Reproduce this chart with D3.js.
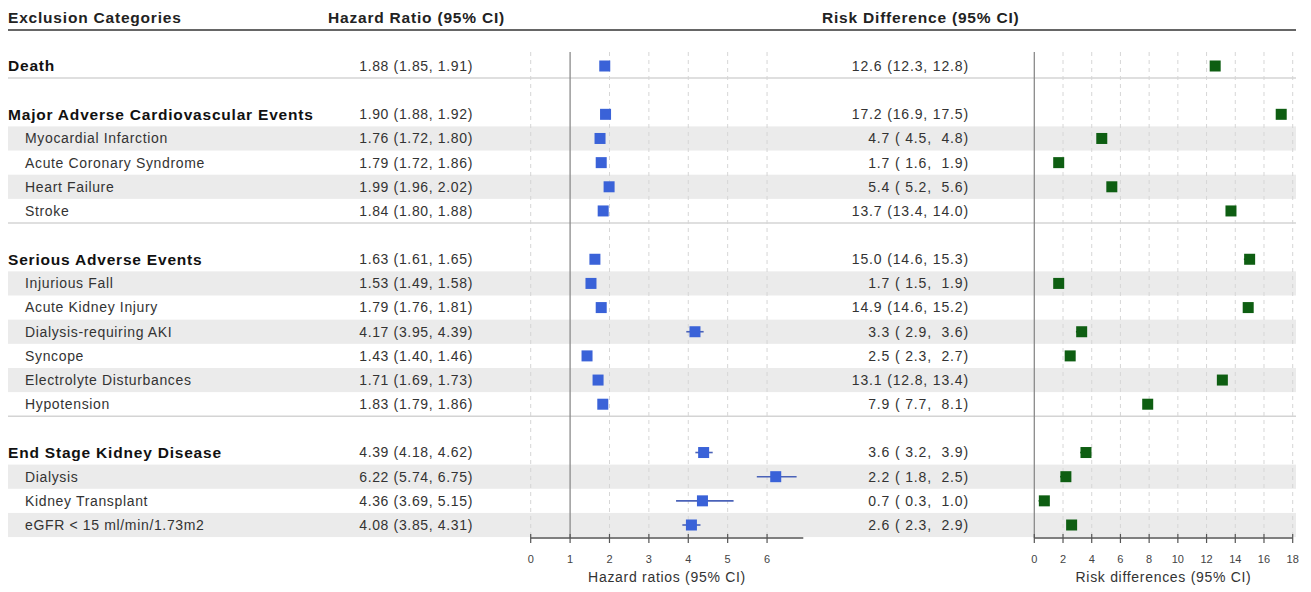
<!DOCTYPE html>
<html><head><meta charset="utf-8">
<script src="https://cdn.jsdelivr.net/npm/d3@7"></script>
<style>body{margin:0;background:#fff}svg{display:block;font-family:"Liberation Sans",Arial,sans-serif}</style>
</head><body><svg id="c" width="1311" height="592"></svg>
<script>
// ---- data ----
const labels = ["Death", "", "Major Adverse Cardiovascular Events", "Myocardial Infarction", "Acute Coronary Syndrome", "Heart Failure", "Stroke", "",
  "Serious Adverse Events", "Injurious Fall", "Acute Kidney Injury", "Dialysis-requiring AKI", "Syncope", "Electrolyte Disturbances", "Hypotension", "",
  "End Stage Kidney Disease", "Dialysis", "Kidney Transplant", "eGFR < 15 ml/min/1.73m2"];
const levels = [0, null, 0, 1, 1, 1, 1, null, 0, 1, 1, 1, 1, 1, 1, null, 0, 1, 1, 1];
const shaded = [0,0,0,1,0,1,0,0,0,1,0,1,0,1,0,0,0,1,0,1];
const hr   = [1.88, null, 1.90, 1.76, 1.79, 1.99, 1.84, null, 1.63, 1.53, 1.79, 4.17, 1.43, 1.71, 1.83, null, 4.39, 6.22, 4.36, 4.08];
const hrLo = [1.85, null, 1.88, 1.72, 1.72, 1.96, 1.80, null, 1.61, 1.49, 1.76, 3.95, 1.40, 1.69, 1.79, null, 4.18, 5.74, 3.69, 3.85];
const hrHi = [1.91, null, 1.92, 1.80, 1.86, 2.02, 1.88, null, 1.65, 1.58, 1.81, 4.39, 1.46, 1.73, 1.86, null, 4.62, 6.75, 5.15, 4.31];
const rd   = [12.6, null, 17.2, 4.7, 1.7, 5.4, 13.7, null, 15.0, 1.7, 14.9, 3.3, 2.5, 13.1, 7.9, null, 3.6, 2.2, 0.7, 2.6];
const rdLo = [12.3, null, 16.9, 4.5, 1.6, 5.2, 13.4, null, 14.6, 1.5, 14.6, 2.9, 2.3, 12.8, 7.7, null, 3.2, 1.8, 0.3, 2.3];
const rdHi = [12.8, null, 17.5, 4.8, 1.9, 5.6, 14.0, null, 15.3, 1.9, 15.2, 3.6, 2.7, 13.4, 8.1, null, 3.9, 2.5, 1.0, 2.9];
const separatorsAfter = [0, 6, 14];
const headers = ["Exclusion Categories", "Hazard Ratio (95% CI)", "Risk Difference (95% CI)"];
const hrTicks = [0, 1, 2, 3, 4, 5, 6];
const rdTicks = [0, 2, 4, 6, 8, 10, 12, 14, 16, 18];
const axisTitles = ["Hazard ratios (95% CI)", "Risk differences (95% CI)"];

// ---- layout ----
const svg = d3.select("#c");
const idx = d3.range(labels.length);
const y = d3.scalePoint().domain(idx).range([66, 525]);
const step = y.step();
const xHR = d3.scaleLinear().domain([0, 6.92]).range([530.7, 803.3]);
const xRD = d3.scaleLinear().domain([0, 18]).range([1034.3, 1292.7]);
const plotTop = 52, axisY = 538;
const L = 8, R = 1296;

// bands
svg.append("g").selectAll("rect").data(idx.filter(i => shaded[i])).join("rect")
  .attr("x", L).attr("width", R - L).attr("y", i => y(i) - step/2).attr("height", step)
  .attr("fill", "#ebebeb");

// separators
svg.append("g").selectAll("line").data(separatorsAfter).join("line")
  .attr("x1", L).attr("x2", R).attr("y1", i => y(i) + step/2).attr("y2", i => y(i) + step/2)
  .attr("stroke", "#d4d4d4").attr("stroke-width", 1.5);

// header
const hx = [8, 328, 822];
svg.append("g").selectAll("text").data(headers).join("text")
  .attr("x", (d, i) => hx[i]).attr("y", 23).attr("font-size", 15.5).attr("letter-spacing", 0.8)
  .attr("font-weight", "bold").attr("fill", "#222")
  .text(d => d);
svg.append("line").attr("x1", L).attr("x2", R).attr("y1", 30).attr("y2", 30).attr("stroke", "#666").attr("stroke-width", 2);

// grid
function grid(scale, ticks, ref) {
  const g = svg.append("g");
  g.selectAll("line.g").data(ticks.filter(t => t !== ref)).join("line")
    .attr("x1", d => scale(d)).attr("x2", d => scale(d)).attr("y1", plotTop).attr("y2", axisY)
    .attr("stroke", "#d6d6d6").attr("stroke-dasharray", "4,4").attr("stroke-width", 1);
  g.append("line").attr("x1", scale(ref)).attr("x2", scale(ref)).attr("y1", plotTop).attr("y2", axisY)
    .attr("stroke", "#8a8a8a").attr("stroke-width", 1.3);
}
grid(xHR, hrTicks, 1);
grid(xRD, rdTicks, 0);

// labels
svg.append("g").selectAll("text").data(idx.filter(i => levels[i] !== null)).join("text")
  .attr("x", i => levels[i] === 0 ? 8 : 25).attr("y", i => y(i)).attr("dy", "0.35em")
  .attr("font-size", i => levels[i] === 0 ? 15.5 : 14)
  .attr("letter-spacing", i => levels[i] === 0 ? 0.8 : 0.65)
  .attr("font-weight", i => levels[i] === 0 ? "bold" : "normal")
  .attr("fill", i => levels[i] === 0 ? "#111" : "#333")
  .text(i => labels[i]);

// value texts
const pad = (v, w) => { const s = v.toFixed(1); return " ".repeat(Math.max(0, w - s.length)) + s; };
svg.append("g").selectAll("text").data(idx.filter(i => hr[i] !== null)).join("text")
  .attr("x", 473).attr("y", i => y(i)).attr("dy", "0.35em").attr("text-anchor", "end")
  .attr("font-size", 14).attr("letter-spacing", 0.65).attr("fill", "#333")
  .text(i => `${hr[i].toFixed(2)} (${hrLo[i].toFixed(2)}, ${hrHi[i].toFixed(2)})`);
svg.append("g").selectAll("text").data(idx.filter(i => rd[i] !== null)).join("text")
  .attr("x", 969).attr("y", i => y(i)).attr("dy", "0.35em").attr("text-anchor", "end")
  .attr("font-size", 14).attr("letter-spacing", 0.85).attr("fill", "#333").style("white-space", "pre").attr("xml:space", "preserve")
  .text(i => `${rd[i].toFixed(1)} (${pad(rdLo[i], 4)}, ${pad(rdHi[i], 4)})`);

// markers
function marks(scale, v, lo, hi, fill, line, size) {
  const g = svg.append("g");
  const ii = idx.filter(i => v[i] !== null);
  g.selectAll("line").data(ii).join("line")
    .attr("x1", i => scale(lo[i])).attr("x2", i => scale(hi[i])).attr("y1", i => y(i)).attr("y2", i => y(i))
    .attr("stroke", line).attr("stroke-width", 1.6);
  g.selectAll("rect").data(ii).join("rect")
    .attr("x", i => scale(v[i]) - size/2).attr("y", i => y(i) - size/2).attr("width", size).attr("height", size)
    .attr("fill", fill);
}
marks(xHR, hr, hrLo, hrHi, "#3a62d8", "#4a62b8", 11);
marks(xRD, rd, rdLo, rdHi, "#0e5e12", "#0e5e12", 11);

// axes
function axis(scale, ticks, title) {
  const g = svg.append("g").attr("transform", `translate(0,${axisY})`);
  g.call(d3.axisBottom(scale).tickValues(ticks).tickSize(0).tickPadding(0).tickFormat(d3.format("d")));
  g.select(".domain").attr("stroke", "#555").attr("stroke-width", 1.3)
    .attr("d", `M${scale.range()[0]},0H${scale.range()[1]}`);
  g.selectAll(".tick text").remove();
  g.selectAll(".tick line").remove();
  g.selectAll("line.tk").data(ticks).join("line").attr("class", "tk")
    .attr("x1", d => scale(d)).attr("x2", d => scale(d)).attr("y1", -4).attr("y2", 5)
    .attr("stroke", "#555").attr("stroke-width", 1.2);
  g.selectAll("text.tl").data(ticks).join("text").attr("class", "tl")
    .attr("x", d => scale(d)).attr("y", 25).attr("text-anchor", "middle")
    .attr("font-size", 11).attr("fill", "#444").text(d => d);
  const [a, b] = scale.range();
  g.append("text").attr("x", (a + b) / 2).attr("y", 44).attr("text-anchor", "middle")
    .attr("font-size", 14).attr("letter-spacing", 0.7).attr("fill", "#333").text(title);
}
axis(xHR, hrTicks, axisTitles[0]);
axis(xRD, rdTicks, axisTitles[1]);
</script></body></html>
